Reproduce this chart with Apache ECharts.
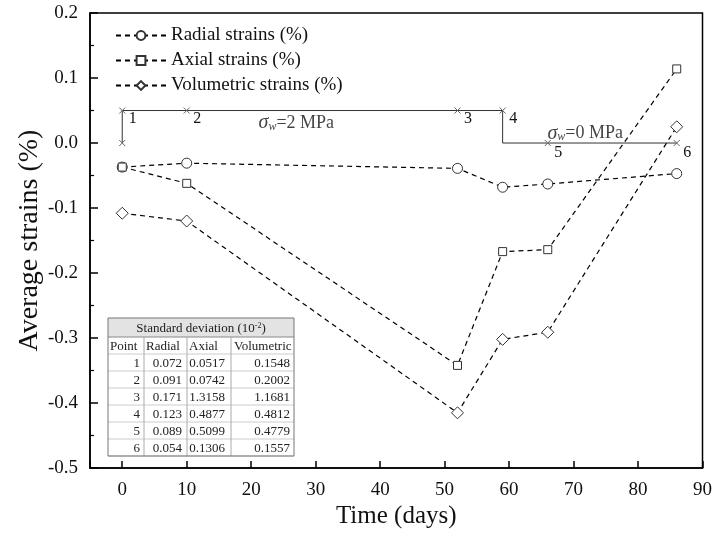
<!DOCTYPE html>
<html>
<head>
<meta charset="utf-8">
<script src="https://cdn.jsdelivr.net/npm/echarts@6/dist/echarts.min.js"></script>
<style>
  html, body { margin: 0; padding: 0; background: #fff; }
  #chart { width: 715px; height: 534px; }
</style>
</head>
<body>
<div id="chart"></div>
<script>
const FONT = 'Liberation Serif';

// measured series (time in days, strains in %)
const time = [0, 10, 52, 59, 66, 86];
const radial = [-0.037, -0.031, -0.039, -0.068, -0.063, -0.047];
const axial = [-0.037, -0.062, -0.342, -0.167, -0.164, 0.114];
const volumetric = [-0.108, -0.120, -0.415, -0.302, -0.291, 0.025];

// loading stages (stepped line with x markers)
const stageX = [0, 0, 10, 52, 59, 59, 66, 86];
const stageY = [0, 0.05, 0.05, 0.05, 0.05, 0, 0, 0];
const stageLabels = ['', '1', '2', '3', '4', '', '5', '6'];

// sigma_w notes
const noteX = [27, 71.8];
const noteY = [0.031, 0.015];
const noteValue = ['2', '0'];

// standard deviation table (10^-2)
const tableCols = ['Point', 'Radial', 'Axial', 'Volumetric'];
const sdPoint = ['1', '2', '3', '4', '5', '6'];
const sdRadial = ['0.072', '0.091', '0.171', '0.123', '0.089', '0.054'];
const sdAxial = ['0.0517', '0.0742', '1.3158', '0.4877', '0.5099', '0.1306'];
const sdVolumetric = ['0.1548', '0.2002', '1.1681', '0.4812', '0.4779', '0.1557'];

const xTicks = [0, 10, 20, 30, 40, 50, 60, 70, 80, 90];

function zip(xs, ys) {
  return xs.map((x, i) => [x, ys[i]]);
}

const chart = echarts.init(document.getElementById('chart'));

const dashed = { color: '#000', width: 1.2, type: [5, 4] };
const marker = { color: '#fff', borderColor: '#333', borderWidth: 1 };

// table layout
const tbl = { left: 108, top: 318, headH: 19, rowH: 17, cols: [108, 144, 187, 231, 294] };
function buildTable() {
  const els = [];
  const w = tbl.cols[4] - tbl.cols[0];
  const nRows = sdPoint.length + 1;
  const h = tbl.headH + nRows * tbl.rowH;
  els.push({ type: 'rect', shape: { x: tbl.left, y: tbl.top, width: w, height: h },
    style: { fill: '#fff', stroke: 'none' } });
  els.push({ type: 'rect', shape: { x: tbl.left, y: tbl.top, width: w, height: tbl.headH },
    style: { fill: '#e3e3e3', stroke: 'none' } });
  els.push({ type: 'text', x: (tbl.cols[0] + tbl.cols[4]) / 2, y: tbl.top + tbl.headH / 2 + 1,
    style: { text: '{a|Standard deviation (10}{s|-2}{a|)}', align: 'center', verticalAlign: 'middle',
      rich: { a: { fontFamily: FONT, fontSize: 13, fill: '#222' },
              s: { fontFamily: FONT, fontSize: 8, fill: '#222', verticalAlign: 'top', padding: [0, 0, 6, 0] } } } });
  // horizontal lines
  for (let r = 0; r <= nRows; r++) {
    const y = tbl.top + tbl.headH + r * tbl.rowH;
    els.push({ type: 'line', shape: { x1: tbl.cols[0], y1: y, x2: tbl.cols[4], y2: y },
      style: { stroke: r === 0 ? '#888' : '#ccc', lineWidth: 1 } });
  }
  // column lines
  for (let c = 1; c < 4; c++) {
    els.push({ type: 'line', shape: { x1: tbl.cols[c], y1: tbl.top + tbl.headH, x2: tbl.cols[c], y2: tbl.top + h },
      style: { stroke: '#aaa', lineWidth: 1 } });
  }
  els.push({ type: 'rect', shape: { x: tbl.left, y: tbl.top, width: w, height: h },
    style: { fill: 'none', stroke: '#777', lineWidth: 1 } });
  const cellStyle = { fontFamily: FONT, fontSize: 13, fill: '#222', verticalAlign: 'middle' };
  const headX = [tbl.cols[0] + 2, tbl.cols[1] + 2, tbl.cols[2] + 2, tbl.cols[3] + 3];
  tableCols.forEach((t, c) => {
    els.push({ type: 'text', x: headX[c], y: tbl.top + tbl.headH + tbl.rowH / 2 + 1,
      style: Object.assign({ text: t, align: 'left' }, cellStyle) });
  });
  const colData = [sdPoint, sdRadial, sdAxial, sdVolumetric];
  const rightX = [140, 182, 225, 290];
  colData.forEach((arr, c) => {
    arr.forEach((t, r) => {
      els.push({ type: 'text', x: rightX[c], y: tbl.top + tbl.headH + (r + 1.5) * tbl.rowH + 1,
        style: Object.assign({ text: t, align: 'right' }, cellStyle) });
    });
  });
  return els;
}

chart.setOption({
  animation: false,
  backgroundColor: '#fff',
  textStyle: { fontFamily: FONT },
  grid: { left: 90, right: 11, top: 13, bottom: 64, show: true, borderColor: '#000', borderWidth: 1.5, backgroundColor: 'transparent' },
  legend: {
    data: ['Radial strains (%)', 'Axial strains (%)', 'Volumetric strains (%)'],
    orient: 'vertical',
    left: 110,
    top: 21,
    itemWidth: 50,
    itemHeight: 11,
    itemGap: 6,
    textStyle: { fontFamily: FONT, fontSize: 19, color: '#111', padding: [2, 0, 0, 0] }
  },
  xAxis: {
    type: 'value',
    min: -5,
    max: 90,
    minInterval: 10,
    maxInterval: 10,
    name: 'Time (days)',
    nameLocation: 'middle',
    nameGap: 34,
    nameTextStyle: { fontFamily: FONT, fontSize: 25, color: '#111' },
    axisLine: { onZero: false, lineStyle: { color: '#000', width: 1.5 } },
    axisTick: { inside: true, length: 7, lineStyle: { color: '#000', width: 1.5 } },
    splitLine: { show: false },
    axisLabel: {
      fontFamily: FONT, fontSize: 19, color: '#111', margin: 12,
      formatter: v => (xTicks.indexOf(v) >= 0 ? String(v) : '')
    }
  },
  yAxis: {
    type: 'value',
    min: -0.5,
    max: 0.2,
    interval: 0.1,
    name: 'Average strains (%)',
    nameLocation: 'middle',
    nameGap: 46,
    nameMoveOverlap: false,
    nameTextStyle: { fontFamily: FONT, fontSize: 28, color: '#111' },
    axisLine: { show: true, onZero: false, lineStyle: { color: '#000', width: 1.5 } },
    axisTick: { inside: true, length: 8, lineStyle: { color: '#000', width: 1.5 } },
    minorTick: { show: true, splitNumber: 2, length: 4, lineStyle: { color: '#000', width: 1.2 } },
    splitLine: { show: false },
    axisLabel: { fontFamily: FONT, fontSize: 19, color: '#111', margin: 12, formatter: v => v.toFixed(1) }
  },
  graphic: buildTable(),
  series: [
    {
      name: 'stages',
      type: 'line',
      data: zip(stageX, stageY).map((p, i) => ({
        value: p,
        symbol: stageLabels[i] === '' && i !== 0 ? 'none' : 'path://M0,0L10,10M10,0L0,10',
        label: {
          show: stageLabels[i] !== '',
          formatter: stageLabels[i],
          position: 'right',
          offset: stageY[i] === 0 ? [-2, 10] : [-2, 8],
          fontFamily: FONT, fontSize: 16, color: '#111'
        }
      })),
      symbolSize: 6,
      itemStyle: { color: 'transparent', borderColor: '#666', borderWidth: 1 },
      lineStyle: { color: '#333', width: 1 },
      z: 1,
      silent: true
    },
    {
      name: 'notes',
      type: 'scatter',
      symbolSize: 0,
      data: zip(noteX, noteY).map((p, i) => ({
        value: p,
        label: {
          show: true,
          position: 'inside',
          formatter: '{s|σ}{w|w}{t|=' + noteValue[i] + ' MPa}',
          rich: {
            s: { fontFamily: FONT, fontSize: 20, fontStyle: 'italic', color: '#111' },
            w: { fontFamily: FONT, fontSize: 12, fontStyle: 'italic', color: '#111', verticalAlign: 'bottom', padding: [6, 0, 0, 0] },
            t: { fontFamily: FONT, fontSize: 18, color: '#111' }
          }
        }
      })),
      z: 2,
      silent: true
    },
    {
      name: 'Radial strains (%)',
      type: 'line',
      data: zip(time, radial),
      symbol: 'circle',
      symbolSize: 10,
      itemStyle: marker,
      lineStyle: dashed,
      z: 3
    },
    {
      name: 'Axial strains (%)',
      type: 'line',
      data: zip(time, axial),
      symbol: 'rect',
      symbolSize: 8,
      itemStyle: marker,
      lineStyle: dashed,
      z: 3
    },
    {
      name: 'Volumetric strains (%)',
      type: 'line',
      data: zip(time, volumetric),
      symbol: 'diamond',
      symbolSize: 12,
      itemStyle: marker,
      lineStyle: dashed,
      z: 3
    }
  ]
});
</script>
</body>
</html>
